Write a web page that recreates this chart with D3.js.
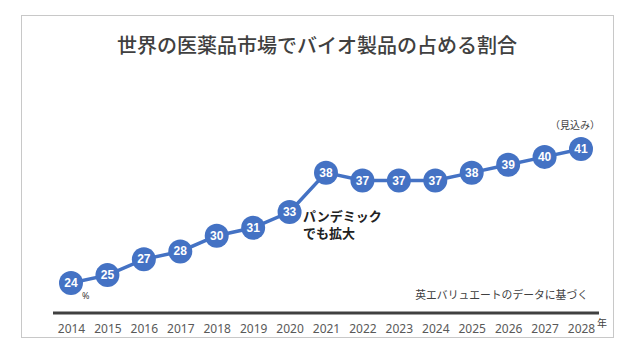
<!DOCTYPE html>
<html>
<head>
<meta charset="utf-8">
<script src="https://cdn.jsdelivr.net/npm/d3@7"></script>
<style>
  body { margin: 0; background: #fff; }
  svg { display: block; }
</style>
</head>
<body>
<script>
let w = 630;
let h = 352;

let years = ['2014', '2015', '2016', '2017', '2018', '2019', '2020', '2021',
  '2022', '2023', '2024', '2025', '2026', '2027', '2028'];
let shares = [24, 25, 27, 28, 30, 31, 33, 38, 37, 37, 37, 38, 39, 40, 41];

let title = '世界の医薬品市場でバイオ製品の占める割合';
let note = ['パンデミック', 'でも拡大'];
let source = '英エバリュエートのデータに基づく';

let blue = '#4472c4';

let xScale = d3.scalePoint()
  .domain(years)
  .range([71, 581]);

let yScale = d3.scaleLinear()
  .domain([24, 41])
  .range([283, 149]);

let svg = d3.select('body')
  .append('svg')
  .attr('width', w)
  .attr('height', h);

// frame
svg.append('rect')
  .attr('x', 21.5)
  .attr('y', 15.5)
  .attr('width', 592)
  .attr('height', 322)
  .attr('fill', '#fff')
  .attr('stroke', '#c8c8c8')
  .attr('stroke-width', 1);

svg.append('text')
  .attr('x', 317)
  .attr('y', 53)
  .attr('text-anchor', 'middle')
  .attr('font-family', '"Noto Sans CJK JP"')
  .attr('font-size', '20px')
  .attr('font-weight', 500)
  .attr('fill', '#404040')
  .text(title);

// x axis
let xAxis = d3.axisBottom(xScale)
  .tickSize(0)
  .tickPadding(11);

let gx = svg.append('g')
  .attr('transform', 'translate(0, 313)')
  .call(xAxis);

gx.select('.domain')
  .attr('d', 'M53,0H599')
  .attr('stroke', '#404040')
  .attr('stroke-width', 3);

gx.selectAll('text')
  .attr('font-family', '"Noto Sans", sans-serif')
  .attr('font-size', '12px')
  .attr('fill', '#595959');

svg.append('text')
  .attr('x', 597)
  .attr('y', 327)
  .attr('font-family', '"Noto Sans CJK JP"')
  .attr('font-size', '10px')
  .attr('fill', '#404040')
  .text('年');

// line
let line = d3.line()
  .x((d, i) => xScale(years[i]))
  .y((d) => yScale(d));

svg.append('path')
  .datum(shares)
  .attr('d', line)
  .attr('fill', 'none')
  .attr('stroke', blue)
  .attr('stroke-width', 3.5);

svg.selectAll('circle.pt')
  .data(shares)
  .enter()
  .append('circle')
  .attr('class', 'pt')
  .attr('cx', (d, i) => xScale(years[i]))
  .attr('cy', (d) => yScale(d))
  .attr('r', 12)
  .attr('fill', blue);

svg.selectAll('text.lbl')
  .data(shares)
  .enter()
  .append('text')
  .attr('class', 'lbl')
  .attr('x', (d, i) => xScale(years[i]))
  .attr('y', (d) => yScale(d) + 4)
  .attr('text-anchor', 'middle')
  .attr('font-family', '"Liberation Sans Narrow", "Liberation Sans", sans-serif')
  .attr('font-size', '12px')
  .attr('font-weight', 'bold')
  .attr('fill', '#fff')
  .text((d) => d);

svg.append('text')
  .attr('x', 82)
  .attr('y', 299)
  .attr('font-family', '"Noto Sans", sans-serif')
  .attr('font-size', '9px')
  .attr('fill', '#404040')
  .text('%');

svg.selectAll('text.note')
  .data(note)
  .enter()
  .append('text')
  .attr('class', 'note')
  .attr('x', 303)
  .attr('y', (d, i) => 221 + i * 17)
  .attr('font-family', '"Noto Sans CJK JP"')
  .attr('font-size', '13px')
  .attr('font-weight', 'bold')
  .attr('fill', '#222')
  .text((d) => d);

svg.append('text')
  .attr('x', 575)
  .attr('y', 129)
  .attr('text-anchor', 'middle')
  .attr('font-family', '"Noto Sans CJK JP"')
  .attr('font-size', '10px')
  .attr('fill', '#404040')
  .text('（見込み）');

svg.append('text')
  .attr('x', 588)
  .attr('y', 299)
  .attr('text-anchor', 'end')
  .attr('font-family', '"Noto Sans CJK JP"')
  .attr('font-size', '10.8px')
  .attr('fill', '#404040')
  .text(source);
</script>
</body>
</html>
